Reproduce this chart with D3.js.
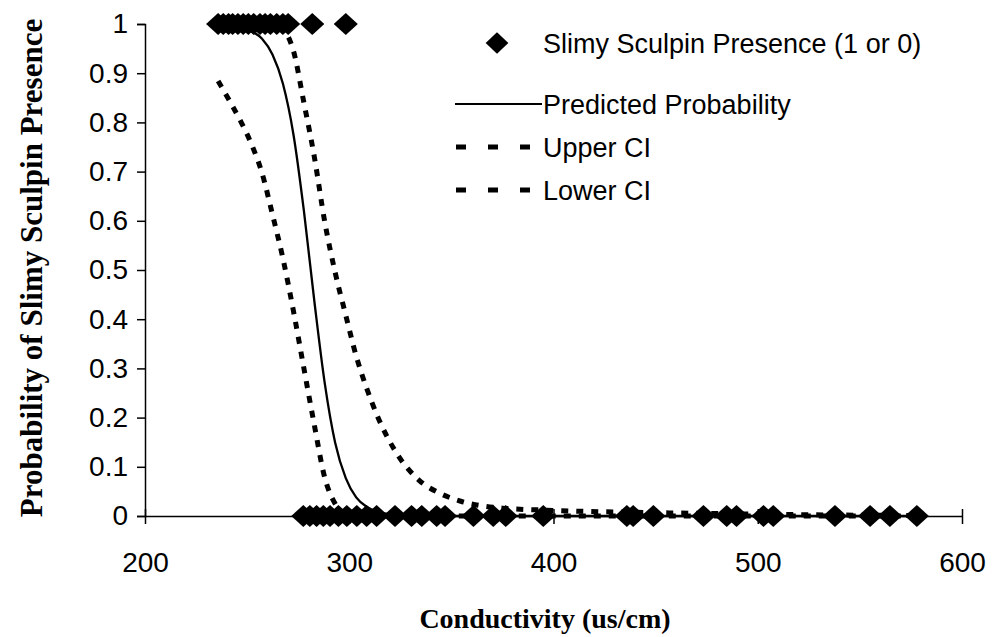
<!DOCTYPE html>
<html>
<head>
<meta charset="utf-8">
<script src="https://cdn.jsdelivr.net/npm/d3@7/dist/d3.min.js"></script>
<style>
  html, body { margin: 0; padding: 0; background: #fff; }
  svg { display: block; }
</style>
</head>
<body>
<svg id="chart" width="1006" height="637"></svg>
<script>
// ---- Data ----
const presentX = [235.8, 238.3, 240.9, 242.9, 245.5, 248.1, 250.6, 253.2, 256.3, 258.8, 261.4, 264.5, 267.5, 270.1, 281.9, 298.3];
const absentX = [277.5, 280.7, 284.0, 287.3, 290.6, 294.7, 298.8, 303.7, 308.5, 313.4, 322.4, 330.5, 335.5, 342.8, 346.9, 360.8, 370.5, 376.6, 395.0, 435.9, 439.0, 448.9, 473.4, 484.8, 489.6, 502.8, 507.6, 537.8, 555.0, 564.7, 577.9];

const curveX    = [235.8, 241.9, 247.0, 252.2, 257.3, 262.4, 267.5, 272.7, 277.8, 282.9, 288.0, 293.1, 298.3, 303.4, 308.5, 313.6, 323.9, 334.1, 344.4, 354.6, 375.1, 395.6, 446.8, 498.0, 539.0, 578.0];
const predicted = [0.999, 0.997, 0.993, 0.985, 0.970, 0.938, 0.879, 0.775, 0.620, 0.437, 0.270, 0.149, 0.077, 0.038, 0.019, 0.009, 0.002, 0.0005, 0, 0, 0, 0, 0, 0, 0, 0];
const upperCI   = [1.000, 1.000, 0.999, 0.998, 0.997, 0.995, 0.988, 0.945, 0.840, 0.730, 0.598, 0.495, 0.408, 0.325, 0.260, 0.205, 0.123, 0.073, 0.046, 0.030, 0.016, 0.012, 0.007, 0.004, 0.002, 0.001];
const lowerCI   = [0.884, 0.840, 0.801, 0.755, 0.697, 0.613, 0.524, 0.416, 0.300, 0.185, 0.078, 0.025, 0.003, 0, 0, 0, 0, 0, 0, 0, 0, 0, 0, 0, 0, 0];

const xTicks = [200, 300, 400, 500, 600];
const yTicks = [0, 0.1, 0.2, 0.3, 0.4, 0.5, 0.6, 0.7, 0.8, 0.9, 1];
const legendLabels = ["Slimy Sculpin Presence (1 or 0)", "Predicted Probability", "Upper CI", "Lower CI"];
const xTitle = "Conductivity (us/cm)";
const yTitle = "Probability of Slimy Sculpin Presence";

// ---- Layout ----
const svg = d3.select("#chart");
const x = d3.scaleLinear().domain([200, 600]).range([145, 962]);
const y = d3.scaleLinear().domain([0, 1]).range([516, 24]);

const sansFont = "'Liberation Sans', Arial, sans-serif";
const serifFont = "'Liberation Serif', 'Times New Roman', serif";

// Axes
const yAxis = d3.axisLeft(y).tickValues(yTicks).tickSize(8).tickPadding(9)
  .tickFormat(d => d === 0 ? "0" : d === 1 ? "1" : d3.format(".1f")(d));
const gy = svg.append("g").attr("transform", `translate(${x(200)},0)`).call(yAxis);
gy.select(".domain").attr("stroke", "#000").attr("stroke-width", 1.5);
gy.selectAll(".tick line").attr("stroke", "#000").attr("stroke-width", 1.5);
gy.selectAll(".tick text").attr("font-family", sansFont).attr("font-size", 28).attr("fill", "#000");

const xAxis = d3.axisBottom(x).tickValues(xTicks).tickSizeInner(8).tickSizeOuter(0).tickPadding(28)
  .tickFormat(d3.format("d"));
const gx = svg.append("g").attr("transform", `translate(0,${y(0)})`).call(xAxis);
gx.select(".domain").attr("stroke", "#000").attr("stroke-width", 1.5);
gx.selectAll(".tick line").attr("stroke", "#000").attr("stroke-width", 1.5).attr("y1", -7).attr("y2", 8);
gx.selectAll(".tick text").attr("font-family", sansFont).attr("font-size", 28).attr("fill", "#000");

// Curves
const curveData = (vals) => curveX.map((cx, i) => [cx, vals[i]]);
const line = d3.line().x(d => x(d[0])).y(d => y(d[1])).curve(d3.curveMonotoneX);

svg.append("path").datum(curveData(upperCI)).attr("d", line)
  .attr("fill", "none").attr("stroke", "#000").attr("stroke-width", 5)
  .attr("stroke-dasharray", "7 8");
svg.append("path").datum(curveData(lowerCI)).attr("d", line)
  .attr("fill", "none").attr("stroke", "#000").attr("stroke-width", 5)
  .attr("stroke-dasharray", "7 8");
svg.append("path").datum(curveData(predicted)).attr("d", line)
  .attr("fill", "none").attr("stroke", "#000").attr("stroke-width", 2.3);

// Diamonds
const diamond = d3.symbol().type(d3.symbolDiamond2).size(370);
const pts = presentX.map(v => [v, 1]).concat(absentX.map(v => [v, 0]));
svg.append("g").selectAll("path").data(pts).join("path")
  .attr("d", diamond)
  .attr("transform", d => `translate(${x(d[0])},${y(d[1])}) scale(1,0.92)`)
  .attr("fill", "#000");

// Legend
const lg = svg.append("g");
const rowY = [43, 104, 147, 190];
lg.append("path").attr("d", d3.symbol().type(d3.symbolDiamond2).size(330)())
  .attr("transform", `translate(497,${rowY[0]}) scale(1,0.95)`).attr("fill", "#000");
lg.append("line").attr("x1", 455).attr("x2", 542).attr("y1", rowY[1]).attr("y2", rowY[1])
  .attr("stroke", "#000").attr("stroke-width", 2);
[2, 3].forEach(i => {
  lg.append("line").attr("x1", 456).attr("x2", 530).attr("y1", rowY[i]).attr("y2", rowY[i])
    .attr("stroke", "#000").attr("stroke-width", 5).attr("stroke-dasharray", "10 22");
});
legendLabels.forEach((t, i) => {
  lg.append("text").attr("x", 543).attr("y", rowY[i]).attr("dy", "0.36em")
    .attr("font-family", sansFont).attr("font-size", 27).attr("fill", "#000").text(t);
});

// Titles
svg.append("text").attr("x", 545).attr("y", 628).attr("text-anchor", "middle")
  .attr("font-family", serifFont).attr("font-weight", "bold").attr("font-size", 28)
  .attr("fill", "#000").text(xTitle);
svg.append("text").attr("transform", "translate(42,268) rotate(-90)").attr("text-anchor", "middle")
  .attr("font-family", serifFont).attr("font-weight", "bold").attr("font-size", 31)
  .attr("fill", "#000").text(yTitle);
</script>
</body>
</html>
